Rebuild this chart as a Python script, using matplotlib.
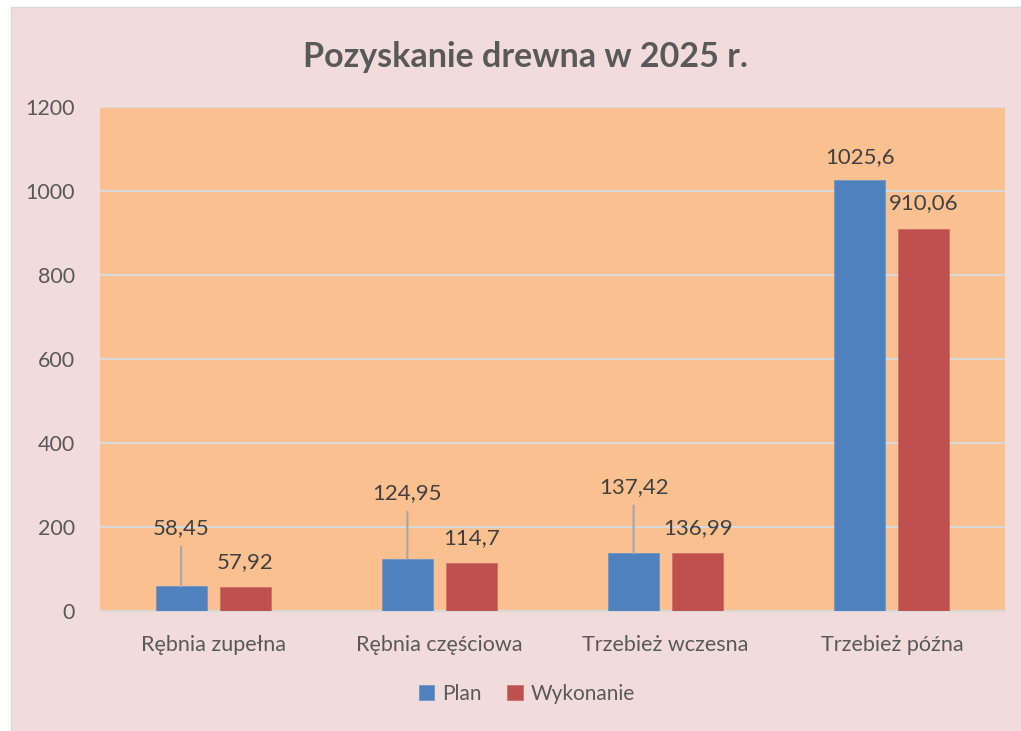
import matplotlib
matplotlib.use("Agg")
import matplotlib.pyplot as plt
from matplotlib.patches import Rectangle

categories = ["Rębnia zupełna", "Rębnia częściowa", "Trzebież wczesna", "Trzebież późna"]
plan = [58.45, 124.95, 137.42, 1025.6]
wykonanie = [57.92, 114.7, 136.99, 910.06]
plan_labels = ["58,45", "124,95", "137,42", "1025,6"]
wyk_labels = ["57,92", "114,7", "136,99", "910,06"]
yticks = [0, 200, 400, 600, 800, 1000, 1200]

# label offsets (pixels above bar top) - style only
plan_offsets = [58, 65, 66, 23]
wyk_offsets = [25, 25, 25, 26]

plt.rcParams['font.family'] = ['Lato', 'DejaVu Sans']

W, H = 1021, 731
fig = plt.figure(figsize=(W / 100, H / 100), dpi=100, facecolor="white")
bg = Rectangle((10.5 / W, -0.01), 1.05, (H - 7.5) / H + 0.01,
               transform=fig.transFigure, facecolor="#F2DCDB",
               edgecolor="#D9D9D9", lw=1, zorder=-10)
fig.patches.append(bg)

ax = fig.add_axes([100 / W, (H - 611) / H, 905 / W, 504 / H])
ax.set_facecolor("#FAC090")

x = list(range(len(categories)))
bw = 0.225
off = 0.1415
blue, red = "#4F81BD", "#C0504D"
xp = [i - off for i in x]
xw = [i + off for i in x]
ax.bar(xp, plan, bw, color=blue, edgecolor="#6f95c8", lw=0.6, label="Plan", zorder=3)
ax.bar(xw, wykonanie, bw, color=red, edgecolor="#cc6e6b", lw=0.6, label="Wykonanie", zorder=3)

ax.set_xlim(-0.5, len(categories) - 0.5)
ax.set_ylim(0, 1200)
ax.set_yticks(yticks)
ax.set_yticklabels([str(t) for t in yticks])
ax.set_xticks(x)
ax.set_xticklabels(categories)
ax.tick_params(axis='both', length=0, labelsize=15.5, colors="#595959")
ax.tick_params(axis='y', pad=18)
ax.tick_params(axis='x', pad=17)
ax.yaxis.grid(True, color="#D9D9D9", lw=1.5, zorder=1)
ax.set_axisbelow(True)
for s in ["top", "right", "left"]:
    ax.spines[s].set_visible(False)
ax.spines["bottom"].set_color("#D9D9D9")
ax.spines["bottom"].set_linewidth(1.5)

for xi, v, lab, o in zip(xp, plan, plan_labels, plan_offsets):
    ap = None
    if o > 40:
        ap = dict(arrowstyle='-', color="#A6A6A6", lw=1.5, shrinkA=4, shrinkB=0,
                  relpos=(0.5, 0.0))
    ax.annotate(lab, (xi, v), xytext=(0, o), textcoords="offset pixels",
                ha="center", va="center", fontsize=16, color="#404040",
                arrowprops=ap, zorder=4)
for xi, v, lab, o in zip(xw, wykonanie, wyk_labels, wyk_offsets):
    ax.annotate(lab, (xi, v), xytext=(0, o), textcoords="offset pixels",
                ha="center", va="center", fontsize=16, color="#404040", zorder=4)

fig.text(525 / W, 1 - 57 / H, "Pozyskanie drewna w 2025 r.", ha="center", va="center",
         fontsize=24.5, fontweight="bold", color="#595959")

leg = fig.legend(loc="center", bbox_to_anchor=(527 / W, 1 - 694 / H), ncol=2,
                 frameon=False, fontsize=15, handlelength=0.75, handleheight=0.75,
                 handletextpad=0.4, columnspacing=1.2)
for t in leg.get_texts():
    t.set_color("#595959")

fig.savefig("out.png", dpi=100, facecolor=fig.get_facecolor())
